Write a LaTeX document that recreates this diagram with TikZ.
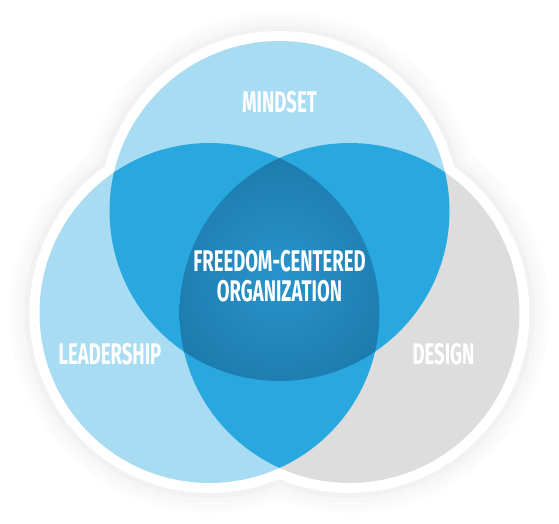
\documentclass[tikz,border=0pt]{standalone}
\usepackage{fontspec}
\newfontfamily\labelfont[FakeStretch=0.62]{Fira Sans}
\usetikzlibrary{positioning}
\definecolor{lightblue}{RGB}{168,220,242}
\definecolor{midblue}{RGB}{41,168,224}
\definecolor{softgray}{RGB}{221,221,221}
\definecolor{coreinner}{RGB}{40,148,204}
\definecolor{coreouter}{RGB}{19,100,146}

\begin{document}
\begin{tikzpicture}[x=0.02cm, y=-0.02cm,
        venntext/.style={text=white, font=\labelfont\bfseries\fontsize{17}{17}\selectfont, align=center}]
    \useasboundingbox (0,0) rectangle (559,524);
    \coordinate (mind) at (279.5,211);
    \coordinate (lead) at (209.5,313);
    \coordinate (des) at (349.5,313);
    % soft shadow, then the white rim
    \foreach \r/\s in {4.0/1, 3.9/2, 3.8/3, 3.7/5, 3.6/0}
        \fill[black!\s] (mind) circle[radius=\r cm] (lead) circle[radius=\r cm] (des) circle[radius=\r cm];
    \fill[lightblue] (lead) circle[radius=3.4cm];
    \fill[softgray] (des) circle[radius=3.4cm];
    \fill[lightblue] (mind) circle[radius=3.4cm];
    \begin{scope}
        \clip (mind) circle[radius=3.4cm];
        \fill[midblue] (lead) circle[radius=3.4cm] (des) circle[radius=3.4cm];
    \end{scope}
    \begin{scope}
        \clip (lead) circle[radius=3.4cm];
        \fill[midblue] (des) circle[radius=3.4cm];
        \clip (mind) circle[radius=3.4cm];
        \clip (des) circle[radius=3.4cm];
        \shade[inner color=coreinner, outer color=coreouter] (279.5,275) circle[radius=4.6cm];
    \end{scope}
    \node[venntext] (mindset) at (279.5,102) {MINDSET};
    \node[venntext] (leadership) at (110,354) {LEADERSHIP};
    \node[venntext] (design) at (443.5,354) {DESIGN};
    \node[venntext] (core) at (279.5,276) {FREEDOM-CENTERED\\ORGANIZATION};
\end{tikzpicture}
\end{document}
